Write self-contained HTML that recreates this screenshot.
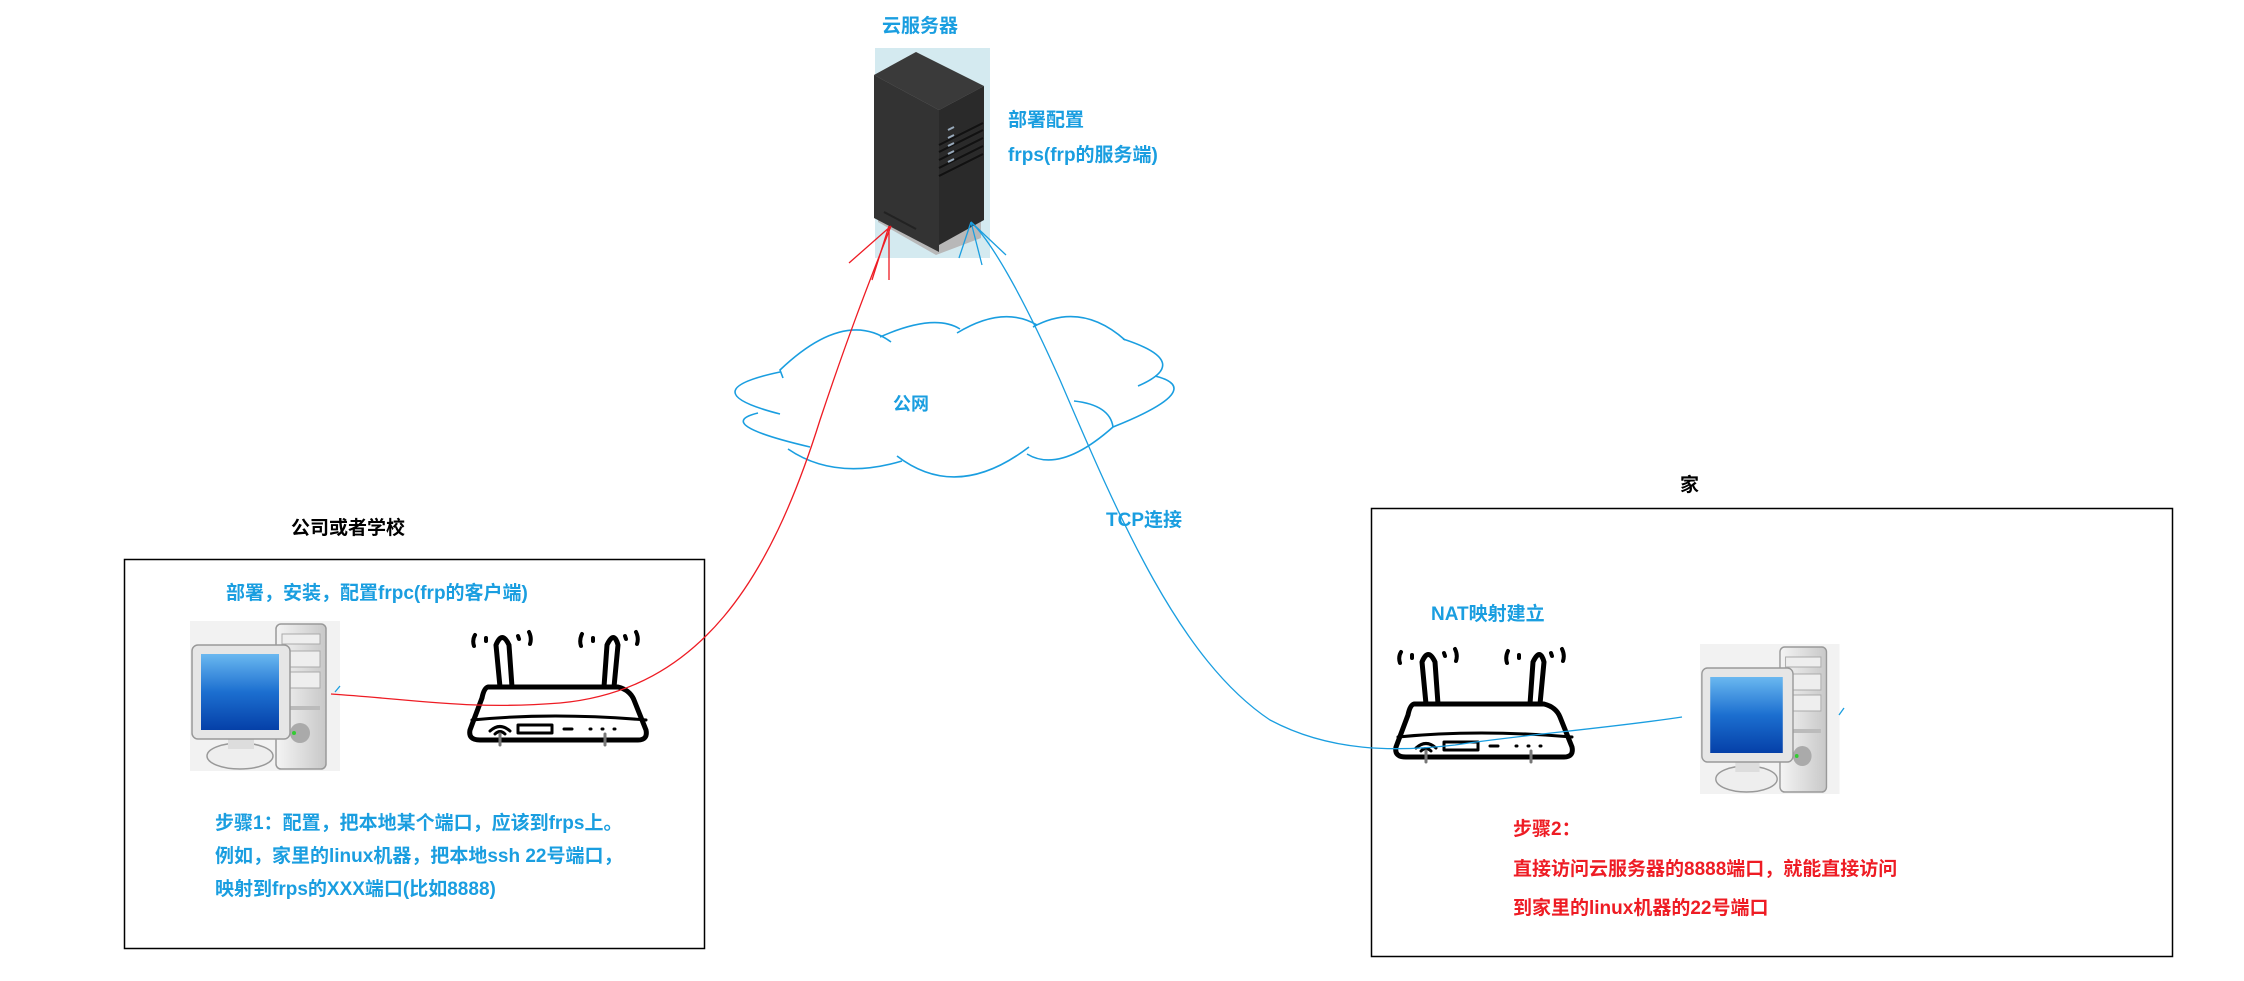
<!DOCTYPE html>
<html><head><meta charset="utf-8"><style>
body{margin:0;background:#fff;width:2244px;height:981px;overflow:hidden;position:relative;font-family:"Liberation Sans","Noto Sans CJK SC",sans-serif;font-weight:bold}
.t{position:absolute;white-space:nowrap;font-size:19px;line-height:1}
.b{color:#1a9ee0}.r{color:#ee1c24}.k{color:#000}
</style></head><body>
<svg width="2244" height="981" style="position:absolute;left:0;top:0">
<defs>
<linearGradient id="scr" x1="0" y1="0" x2="0" y2="1"><stop offset="0" stop-color="#6ab8f0"/><stop offset="0.5" stop-color="#1c6fd0"/><stop offset="1" stop-color="#0540a8"/></linearGradient>
<linearGradient id="gry" x1="0" y1="0" x2="1" y2="0"><stop offset="0" stop-color="#f4f4f4"/><stop offset="1" stop-color="#c8c8c8"/></linearGradient>
<g id="pc">
<rect x="0" y="0" width="150" height="150" fill="#f2f2f2"/>
<rect x="86" y="3" width="50" height="145" rx="5" fill="url(#gry)" stroke="#999" stroke-width="1.5"/>
<rect x="92" y="13" width="38" height="10" fill="#eee" stroke="#aaa"/>
<rect x="92" y="30" width="38" height="16" fill="#eee" stroke="#aaa"/>
<rect x="92" y="51" width="38" height="16" fill="#eee" stroke="#aaa"/>
<rect x="92" y="85" width="38" height="4" fill="#bbb"/>
<circle cx="110" cy="112" r="10" fill="#aaa"/><circle cx="104" cy="112" r="2" fill="#3c3"/>
<ellipse cx="50" cy="135" rx="33" ry="13" fill="#eee" stroke="#999" stroke-width="1.5"/>
<rect x="38" y="110" width="26" height="18" fill="#ddd"/>
<rect x="2" y="24" width="98" height="94" rx="6" fill="#e6e6e6" stroke="#999" stroke-width="1.5"/>
<rect x="11" y="33" width="78" height="76" fill="url(#scr)"/>
</g>
<g id="rt" fill="none" stroke="#000" stroke-linecap="round" stroke-linejoin="round">
<path d="M38,57 L34,15 Q40,0 47,15 L50,57" stroke-width="5" fill="#fff"/>
<path d="M142,57 L145,15 Q152,0 156,15 L152,57" stroke-width="5" fill="#fff"/>
<path d="M26,57 L156,57 Q168,60 172,70 L184,100 Q186,110 176,110 L18,110 Q6,110 8,100 L20,68 Q22,58 26,57 Z" stroke-width="5" fill="#fff"/>
<path d="M10,90 Q90,82 184,90" stroke-width="3"/>
<rect x="56" y="95" width="34" height="8" stroke-width="3"/>
<path d="M102,99 H110" stroke-width="3"/>
<path d="M128,99h1 M140,99h1 M152,99h1" stroke-width="3"/>
<path d="M28,101 Q38,92 48,101 M33,104 Q38,99 43,104" stroke-width="3"/>
<path d="M38,104 V115 M143,104 V115" stroke="#777" stroke-width="3"/>
<path d="M13,5 Q10,10 12,16 M24,8 v3 M56,6 l1,3 M67,2 Q70,8 68,14 M120,4 Q117,10 119,16 M131,8 v3 M163,6 l1,3 M174,2 Q177,8 175,14" stroke-width="4"/>
</g>
</defs>
<!-- boxes -->
<rect x="124.5" y="559.5" width="580" height="389" fill="none" stroke="#000" stroke-width="1.5"/>
<rect x="1371.5" y="508.5" width="801" height="448" fill="none" stroke="#000" stroke-width="1.5"/>
<!-- cloud -->
<g fill="none" stroke="#1a9ee0" stroke-width="1.6">
<path d="M780,372 Q690,391 780,414"/>
<path d="M758,413 Q712,424 810,447"/>
<path d="M788,449 Q835,481 902,461"/>
<path d="M897,456 Q957,502 1029,447"/>
<path d="M1027,454 Q1060,474 1113,427"/>
<path d="M1113,427 Q1208,389 1155,376"/>
<path d="M1138,386 Q1194,362 1123,339"/>
<path d="M1125,340 Q1081,301 1033,327"/>
<path d="M1037,325 Q1003,305 957,333"/>
<path d="M960,329 Q934,313 880,337"/>
<path d="M891,342 Q845,308 780,370 L783,378"/>
<path d="M1074,401 Q1110,405 1113,427"/>
</g>
<!-- server -->
<g transform="translate(-4,0)">
<rect x="879" y="48" width="115" height="210" fill="#d4eaf0"/>
<path d="M878,75 L920,52 L985,86 L985,238 L940,255 L882,222 Z" fill="#b8b8b8"/>
<path d="M878,75 L920,52 L988,86 L943,110 Z" fill="#3a3a3a"/>
<path d="M878,75 L943,110 L943,252 L878,218 Z" fill="#333"/>
<path d="M943,110 L988,86 L988,220 L943,245 Z" fill="#2a2a2a"/>
<path d="M943,145 l44,-22 M943,152 l44,-22 M943,160 l44,-22 M943,168 l44,-22 M943,176 l44,-22" stroke="#111" stroke-width="2"/>
<path d="M952,130 l6,-3 M952,138 l6,-3 M952,146 l6,-3 M952,154 l6,-3 M952,162 l6,-3" stroke="#9ab" stroke-width="2"/>
<path d="M888,212 l32,17" stroke="#222" stroke-width="2"/>
</g>
<!-- computers -->
<use href="#pc" x="190" y="621"/>
<use href="#pc" transform="translate(1700,644) scale(0.93,1)"/>
<!-- routers -->
<use href="#rt" x="462" y="630"/>
<use href="#rt" x="1388" y="647"/>
<!-- red lines -->
<g fill="none" stroke="#ee1c24" stroke-width="1.3">
<path d="M331,694 C420,700 470,710 560,703 C700,690 770,580 820,420 C850,330 870,280 891,226"/>
<path d="M891,226 L849,263 M889,226 L872,280 M889,226 L889,280"/>
</g>
<!-- blue lines -->
<g fill="none" stroke="#1a9ee0" stroke-width="1.3">
<path d="M1682,717 C1610,728 1520,735 1455,745 C1395,752 1330,752 1270,720 C1180,660 1120,520 1060,380 C1020,290 990,240 971,222"/>
<path d="M971,222 L1006,255 M971,222 L982,265 M971,222 L959,258"/>
<path d="M1839,715 l5,-7 M335,692 l5,-6"/>
</g>
</svg>
<div class="t b" style="left:882px;top:17px">云服务器</div>
<div class="t b" style="left:1008px;top:111px">部署配置</div>
<div class="t b" style="left:1008px;top:146px">frps(frp的服务端)</div>
<div class="t b" style="left:893px;top:395px;font-size:18px">公网</div>
<div class="t b" style="left:1106px;top:511px">TCP连接</div>
<div class="t k" style="left:291px;top:519px">公司或者学校</div>
<div class="t b" style="left:226px;top:584px">部署，安装，配置frpc(frp的客户端)</div>
<div class="t b" style="left:215px;top:814px">步骤1：配置，把本地某个端口，应该到frps上。</div>
<div class="t b" style="left:215px;top:847px">例如，家里的linux机器，把本地ssh 22号端口，</div>
<div class="t b" style="left:215px;top:880px">映射到frps的XXX端口(比如8888)</div>
<div class="t k" style="left:1680px;top:476px">家</div>
<div class="t b" style="left:1431px;top:605px">NAT映射建立</div>
<div class="t r" style="left:1513px;top:820px">步骤2：</div>
<div class="t r" style="left:1513px;top:860px">直接访问云服务器的8888端口，就能直接访问</div>
<div class="t r" style="left:1513px;top:899px">到家里的linux机器的22号端口</div>
</body></html>
